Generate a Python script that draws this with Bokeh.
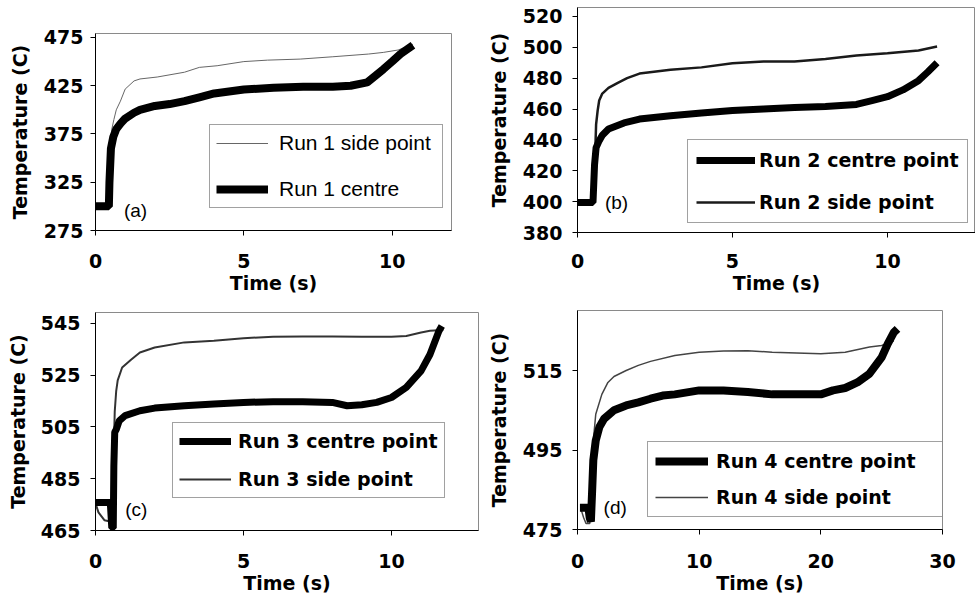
from bokeh.plotting import figure
from bokeh.models import Range1d, FixedTicker, Legend, LegendItem, Label
from bokeh.layouts import column, row
from bokeh.embed import file_html
from bokeh.resources import INLINE

# ---------------- data ----------------
# Panel (a) - Run 1
a_time_side = [0, 0.45, 0.5, 0.55, 0.62, 0.7, 0.84, 1.0, 1.3, 1.5, 2.08, 3.0, 3.5, 4.1, 5.0, 5.8, 6.9, 8.0, 9.2, 9.7, 10.2, 10.7]
a_temp_side = [300, 300, 340, 380, 390, 400, 409, 421.5, 430, 432, 434, 439, 444, 445.7, 450, 451.5, 452.6, 455, 457.8, 459.5, 462, 468]
a_time_centre = [0, 0.45, 0.47, 0.52, 0.6, 0.7, 0.85, 1.0, 1.3, 1.5, 2.0, 2.5, 3.0, 3.5, 4.0, 4.5, 5.0, 6.0, 7.0, 8.0, 8.6, 9.16, 9.7, 10.0, 10.28, 10.7]
a_temp_centre = [300, 300, 325, 360, 372, 380, 386, 391, 397, 400, 404, 406, 409, 413, 417, 419, 421, 423, 424, 424, 425, 428.4, 442, 450, 457.8, 467]

# Panel (b) - Run 2
b_time_centre = [0, 0.5, 0.55, 0.6, 0.7, 0.8, 1.0, 1.5, 2, 3, 4, 5, 6, 7, 8, 9, 9.5, 10, 10.5, 11, 11.3, 11.6]
b_temp_centre = [399.5, 399.5, 424, 435, 439.5, 443, 447, 451, 453.5, 455.7, 457.4, 459, 460, 461, 461.6, 463, 465.5, 468, 472.4, 478.4, 484, 490]
b_time_side = [0, 0.5, 0.55, 0.6, 0.65, 0.7, 0.8, 1.0, 1.3, 1.6, 2, 3, 4, 5, 6, 7, 8, 9, 10, 11, 11.6]
b_temp_side = [399.5, 399.5, 418, 450, 459, 465.5, 470, 473.7, 477, 480, 483, 485.4, 487, 489.7, 490.8, 490.8, 492.5, 494.7, 496.2, 498, 500.5]

# Panel (c) - Run 3
c_time_centre = [0, 0.5, 0.55, 0.6, 0.62, 0.65, 0.7, 0.8, 1.0, 1.5, 2, 3, 4, 5, 6, 7, 8, 8.5, 9, 9.5, 10, 10.5, 11, 11.3, 11.6, 11.7]
c_temp_centre = [475.8, 475.8, 466, 466, 490, 503, 504, 507.4, 509.4, 511.3, 512.3, 513.2, 513.9, 514.5, 514.8, 514.8, 514.5, 513.2, 513.6, 514.5, 516.4, 520.3, 526.7, 533, 542, 544]
c_time_side = [0, 0.1, 0.3, 0.5, 0.55, 0.58, 0.6, 0.65, 0.7, 0.75, 0.9, 1.2, 1.5, 2, 3, 4, 5, 6, 7, 8, 9, 10, 10.5, 11, 11.3, 11.75]
c_temp_side = [475.5, 472, 469, 468.5, 470, 480, 489, 511, 519, 523, 528, 531, 533.8, 535.7, 537.7, 538.3, 539.3, 539.9, 540, 540, 539.9, 539.9, 540.2, 541.5, 542.2, 542.5]

# Panel (d) - Run 4
d_time_centre = [0.2, 0.9, 1.0, 1.1, 1.2, 1.3, 1.5, 1.8, 2.2, 3, 4, 5, 6, 7, 8, 10, 12, 14, 16, 18, 20, 21, 22, 23, 24, 25, 25.5, 26, 26.3]
d_temp_centre = [480.5, 480.5, 478, 477, 484.5, 492.4, 497.4, 500.8, 502.9, 505, 506.2, 507, 507.9, 508.7, 509, 510, 510, 509.6, 509, 509, 509, 510, 510.6, 512, 514.2, 518.3, 521.7, 524.6, 525.5]
d_time_side = [0.3, 0.5, 0.7, 1.0, 1.15, 1.25, 1.35, 1.5, 2, 2.5, 3, 4, 5, 6, 8, 10, 12, 14, 16, 18, 20, 22, 24, 25, 26]
d_temp_side = [480, 478, 476.5, 476.5, 480, 490, 499, 504, 509, 512, 513.5, 515, 516.3, 517.3, 518.8, 519.6, 519.9, 520, 519.6, 519.4, 519.2, 519.6, 520.9, 521.3, 522.5]

a_xticks = [0, 5, 10]
a_yticks = [275, 325, 375, 425, 475]
b_xticks = [0, 5, 10]
b_yticks = [380, 400, 420, 440, 460, 480, 500, 520]
c_xticks = [0, 5, 10]
c_yticks = [465, 485, 505, 525, 545]
d_xticks = [0, 10, 20, 30]
d_yticks = [475, 495, 515]

a_labels = ["Run 1 side point", "Run 1 centre"]
b_labels = ["Run 2 centre point", "Run 2 side point"]
c_labels = ["Run 3 centre point", "Run 3 side point"]
d_labels = ["Run 4 centre point", "Run 4 side point"]
tags = ["(a)", "(b)", "(c)", "(d)"]
tag_pos = [(1.35, 296), (1.26, 399.5), (1.38, 473.1), (3.1, 480.5)]

XLABEL = "Time (s)"
YLABEL = "Temperature (C)"
BOLD = "DejaVu Sans"


def make_fig(width, height, ml, mr, mt, mb, xr, yr, xticks, yticks,
             xstand, xlab_stand, ystand, ylab_stand, right_outline=True):
    p = figure(width=width, height=height, x_range=Range1d(*xr), y_range=Range1d(*yr),
               output_backend="svg", toolbar_location=None,
               min_border_left=ml, min_border_right=mr, min_border_top=mt, min_border_bottom=mb)
    p.frame_align = False
    p.grid.visible = False
    p.outline_line_color = "#8a8a8a"
    p.outline_line_width = 1
    p.background_fill_color = "white"
    p.border_fill_color = "white"
    p.xaxis.ticker = FixedTicker(ticks=xticks)
    p.yaxis.ticker = FixedTicker(ticks=yticks)
    for ax in (p.xaxis, p.yaxis):
        ax.axis_line_color = "black"
        ax.axis_line_width = 1
        ax.major_tick_line_color = "black"
        ax.major_tick_out = 5
        ax.major_tick_in = 0
        ax.minor_tick_line_color = None
        ax.major_label_text_font = BOLD
        ax.major_label_text_font_style = "bold"
        ax.major_label_text_font_size = "19px"
        ax.major_label_text_color = "black"
        ax.axis_label_text_font = BOLD
        ax.axis_label_text_font_style = "bold"
        ax.axis_label_text_font_size = "19px"
        ax.axis_label_text_color = "black"
    p.xaxis.axis_label = XLABEL
    p.yaxis.axis_label = YLABEL
    p.xaxis.major_label_standoff = xstand
    p.xaxis.axis_label_standoff = xlab_stand
    p.yaxis.major_label_standoff = ystand
    p.yaxis.axis_label_standoff = ylab_stand
    return p


def add_legend(p, items, loc, padding, spacing, glyph_width, standoff, label_width,
               font, size, style):
    lg = Legend(items=items, location=loc, padding=padding, spacing=spacing,
                glyph_width=glyph_width, glyph_height=24, label_height=24,
                label_width=label_width, label_standoff=standoff, margin=0,
                border_line_color="#444444", border_line_width=1,
                background_fill_color="white", background_fill_alpha=1.0,
                label_text_font=font, label_text_font_size=size,
                label_text_font_style=style, label_text_color="black")
    p.add_layout(lg)


def add_tag(p, i):
    p.add_layout(Label(x=tag_pos[i][0], y=tag_pos[i][1], text=tags[i],
                       text_font="Liberation Sans", text_font_size="19px",
                       text_align="center", text_baseline="middle", text_color="black"))


# Panel (a)
pa = make_fig(480, 300, 95, 29, 33, 70, (0, 12.0), (275, 479.1), a_xticks, a_yticks,
              18, 1, 7, 10)
ra_side = pa.line(a_time_side, a_temp_side, line_color="#666666", line_width=1)
ra_centre = pa.line(a_time_centre, a_temp_centre, line_color="black", line_width=8)
add_legend(pa, [LegendItem(label=a_labels[0], renderers=[ra_side]),
                LegendItem(label=a_labels[1], renderers=[ra_centre])],
           (114, 22), 6, 22, 52, 11, 157, "Liberation Sans", "21px", "normal")
add_tag(pa, 0)

# Panel (b)
pb = make_fig(495, 300, 97, 0, 7, 68, (0, 12.84), (380, 525.8), b_xticks, b_yticks,
              16, 1, 10, 10)
rb_side = pb.line(b_time_side, b_temp_side, line_color="#1a1a1a", line_width=2.5)
rb_centre = pb.line(b_time_centre, b_temp_centre, line_color="black", line_width=7)
add_legend(pb, [LegendItem(label=b_labels[0], renderers=[rb_centre]),
                LegendItem(label=b_labels[1], renderers=[rb_side])],
           (110, 9), 8, 18, 59, 4, 195, BOLD, "19px", "bold")
add_tag(pb, 1)

# Panel (c)
pc = make_fig(480, 298, 95, 2, 12, 68, (0, 12.94), (465, 549.25), c_xticks, c_yticks,
              18, 1, 10, 9)
rc_side = pc.line(c_time_side, c_temp_side, line_color="#333333", line_width=2)
rc_centre = pc.line(c_time_centre, c_temp_centre, line_color="black", line_width=7)
add_legend(pc, [LegendItem(label=c_labels[0], renderers=[rc_centre]),
                LegendItem(label=c_labels[1], renderers=[rc_side])],
           (77, 32), 6, 14, 52, 7, 195, BOLD, "19px", "bold")
add_tag(pc, 2)

# Panel (d)
pd_ = make_fig(495, 298, 97, 33, 10, 69, (0, 30), (475, 530.1), d_xticks, d_yticks,
               19, 1, 10, 10)
rd_side = pd_.line(d_time_side, d_temp_side, line_color="#444444", line_width=1.5)
rd_centre = pd_.line(d_time_centre, d_temp_centre, line_color="black", line_width=8)
add_legend(pd_, [LegendItem(label=d_labels[0], renderers=[rd_centre]),
                 LegendItem(label=d_labels[1], renderers=[rd_side])],
           (70, 12), 7, 12, 53, 8, 220, BOLD, "19px", "bold")
add_tag(pd_, 3)

layout = column(row(pa, pb), row(pc, pd_))
open("out.html", "w").write(file_html(layout, INLINE))
